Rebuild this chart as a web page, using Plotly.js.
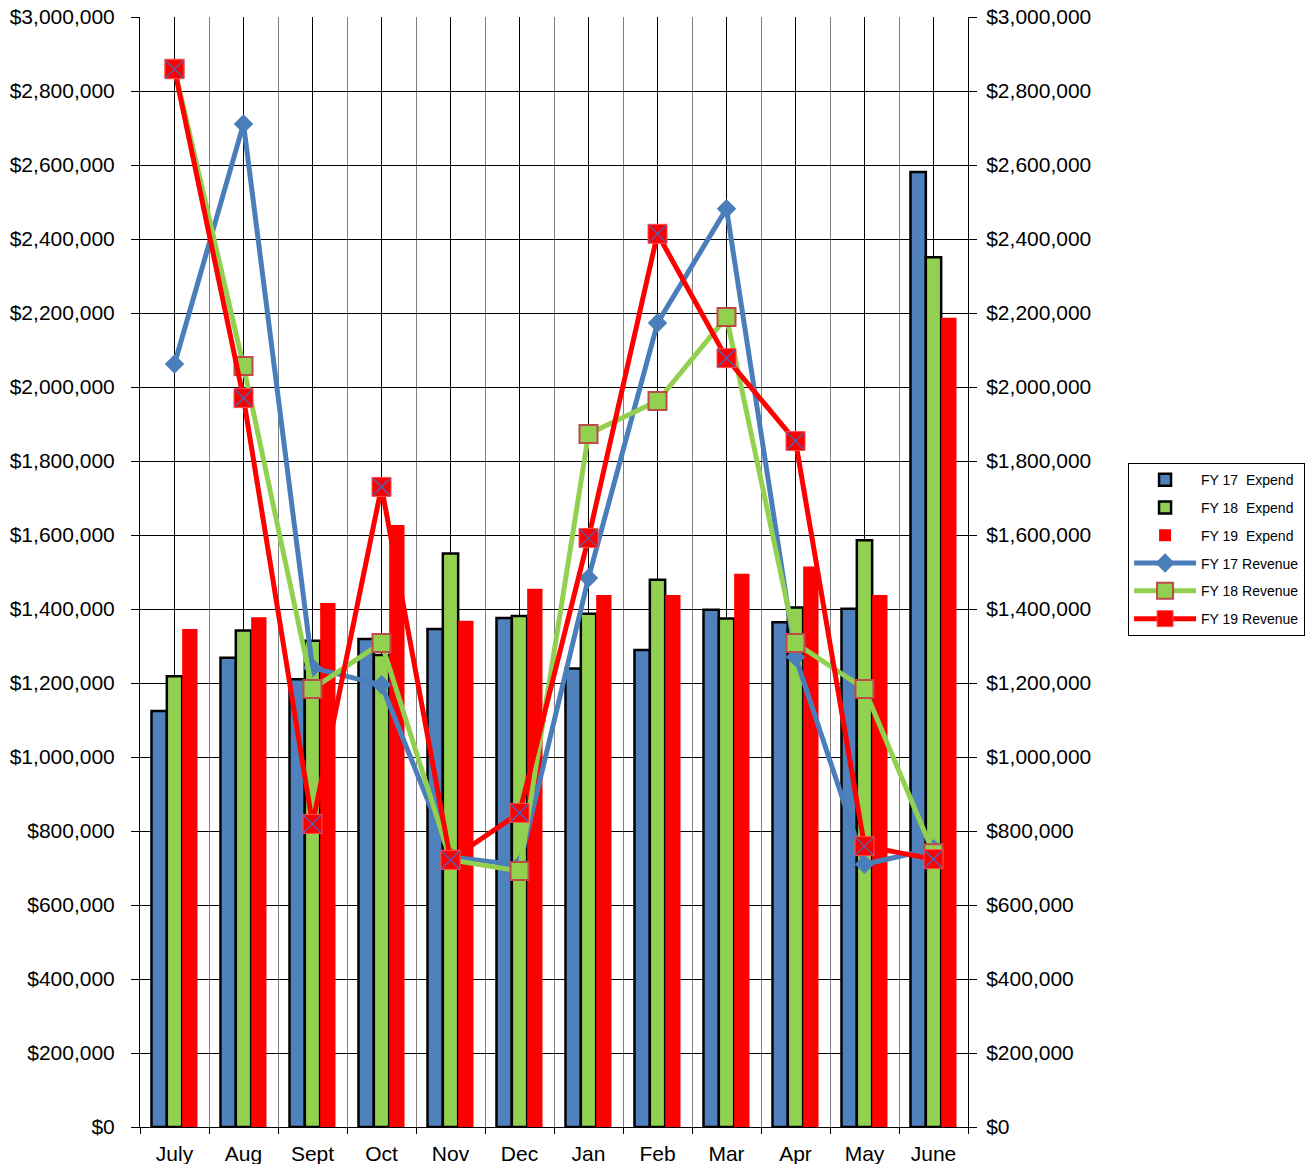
<!DOCTYPE html>
<html>
<head>
<meta charset="utf-8">
<script src="https://cdn.plot.ly/plotly-3.0.1.min.js"></script>
<style>html,body{margin:0;padding:0;background:#fff;}#chart{width:1312px;height:1164px;}</style>
</head>
<body>
<div id="chart"></div>
<script>
const months = ['July','Aug','Sept','Oct','Nov','Dec','Jan','Feb','Mar','Apr','May','June'];
const fy17Expend = [1124000,1268000,1210000,1319000,1346000,1376000,1239000,1289000,1398000,1364000,1401000,2581000];
const fy18Expend = [1218000,1342000,1314000,1276000,1550000,1381000,1387000,1479000,1374000,1404000,1586000,2351000];
const fy19Expend = [1346000,1378000,1416000,1627000,1368000,1455000,1438000,1438000,1495000,1515000,1438000,2187000];
const fy17Revenue = [2062000,2711000,1241000,1195000,730000,708000,1484000,2173000,2482000,1270000,710000,752000];
const fy18Revenue = [2860000,2057000,1184000,1308000,722000,692000,1873000,1962000,2189000,1308000,1184000,740000];
const fy19Revenue = [2859000,1970000,819000,1730000,722000,849000,1592000,2414000,2078000,1854000,759000,724000];
const yTicks = [0,200000,400000,600000,800000,1000000,1200000,1400000,1600000,1800000,2000000,2200000,2400000,2600000,2800000,3000000];
const yTickText = yTicks.map(v => '$' + v.toLocaleString('en-US'));

const xi = months.map((m,i)=>i);
const font = {family:'"Liberation Sans", Arial, sans-serif', color:'#000'};

const traces = [
  {type:'bar', name:'FY 17  Expend', x:xi, y:fy17Expend, legendgroup:'a',
   marker:{color:'#4f81bd', line:{color:'#000', width:2.5}}},
  {type:'bar', name:'FY 18  Expend', x:xi, y:fy18Expend, legendgroup:'b',
   marker:{color:'#92d050', line:{color:'#000', width:2.5}}},
  {type:'bar', name:'FY 19  Expend', x:xi, y:fy19Expend, legendgroup:'c',
   marker:{color:'#ff0000', line:{color:'#ff0000', width:0}}},
  {type:'scatter', mode:'lines+markers', name:'FY 17 Revenue', x:xi, y:fy17Revenue, yaxis:'y2', legendgroup:'d',
   line:{color:'#4a7ebb', width:5}, marker:{symbol:'diamond', size:15, color:'#4a7ebb'}},
  {type:'scatter', mode:'lines+markers', name:'FY 18 Revenue', x:xi, y:fy18Revenue, yaxis:'y2', legendgroup:'e',
   line:{color:'#92d050', width:5}, marker:{symbol:'square', size:18, color:'#92d050', line:{color:'#be4b48', width:2}}},
  {type:'scatter', mode:'lines+markers', name:'FY 19 Revenue', x:xi, y:fy19Revenue, yaxis:'y2', legendgroup:'f',
   line:{color:'#ff0000', width:5}, marker:{symbol:'square', size:19, color:'#ff0000', line:{color:'#ff5050', width:1}}},
  {type:'scatter', mode:'markers', name:'FY 19 Revenue', x:xi, y:fy19Revenue, yaxis:'y2', legendgroup:'f', showlegend:false,
   hoverinfo:'skip', marker:{symbol:'x-thin-open', size:17, color:'#5b5aa8', line:{color:'#5b5aa8', width:1.5}}}
];

const yCommon = {
  range:[0,3000000], tickmode:'array', tickvals:yTicks, ticktext:yTickText,
  showline:true, linecolor:'#000', linewidth:1, ticks:'outside', ticklen:8, tickcolor:'#000',
  tickfont:Object.assign({size:21}, font), zeroline:false, fixedrange:true, automargin:false
};

const layout = {
  width:1312, height:1164,
  margin:{l:140, r:344, t:17, b:37},
  paper_bgcolor:'#fff', plot_bgcolor:'#fff',
  font:font,
  barmode:'group', bargap:0.333, bargroupgap:0,
  showlegend:true,
  legend:{xref:'container', yref:'container', x:0.8598, y:0.6022, xanchor:'left', yanchor:'top',
          bordercolor:'#000', borderwidth:1,
          font:Object.assign({size:14}, font), itemwidth:62, tracegroupgap:6.6, bgcolor:'#fff'},
  xaxis:{range:[-0.5,11.5], tickmode:'array', tickvals:xi, ticktext:months,
         showgrid:true, gridcolor:'#000', gridwidth:1,
         ticks:'outside', ticklen:8, tickcolor:'rgba(0,0,0,0)',
         tickfont:Object.assign({size:21}, font),
         showline:true, linecolor:'#000', linewidth:1, zeroline:false, automargin:false, fixedrange:true,
         minor:{tickmode:'linear', tick0:-0.5, dtick:1, showgrid:true, gridcolor:'#808080', gridwidth:1,
                ticks:'outside', ticklen:6, tickcolor:'#000'}},
  yaxis:Object.assign({}, yCommon, {side:'left', showgrid:true, gridcolor:'#000', gridwidth:1, ticklabelstandoff:12}),
  yaxis2:Object.assign({}, yCommon, {side:'right', overlaying:'y', showgrid:false, ticklabelstandoff:5})
};

Plotly.newPlot('chart', traces, layout, {staticPlot:true, displayModeBar:false});
</script>
</body>
</html>
